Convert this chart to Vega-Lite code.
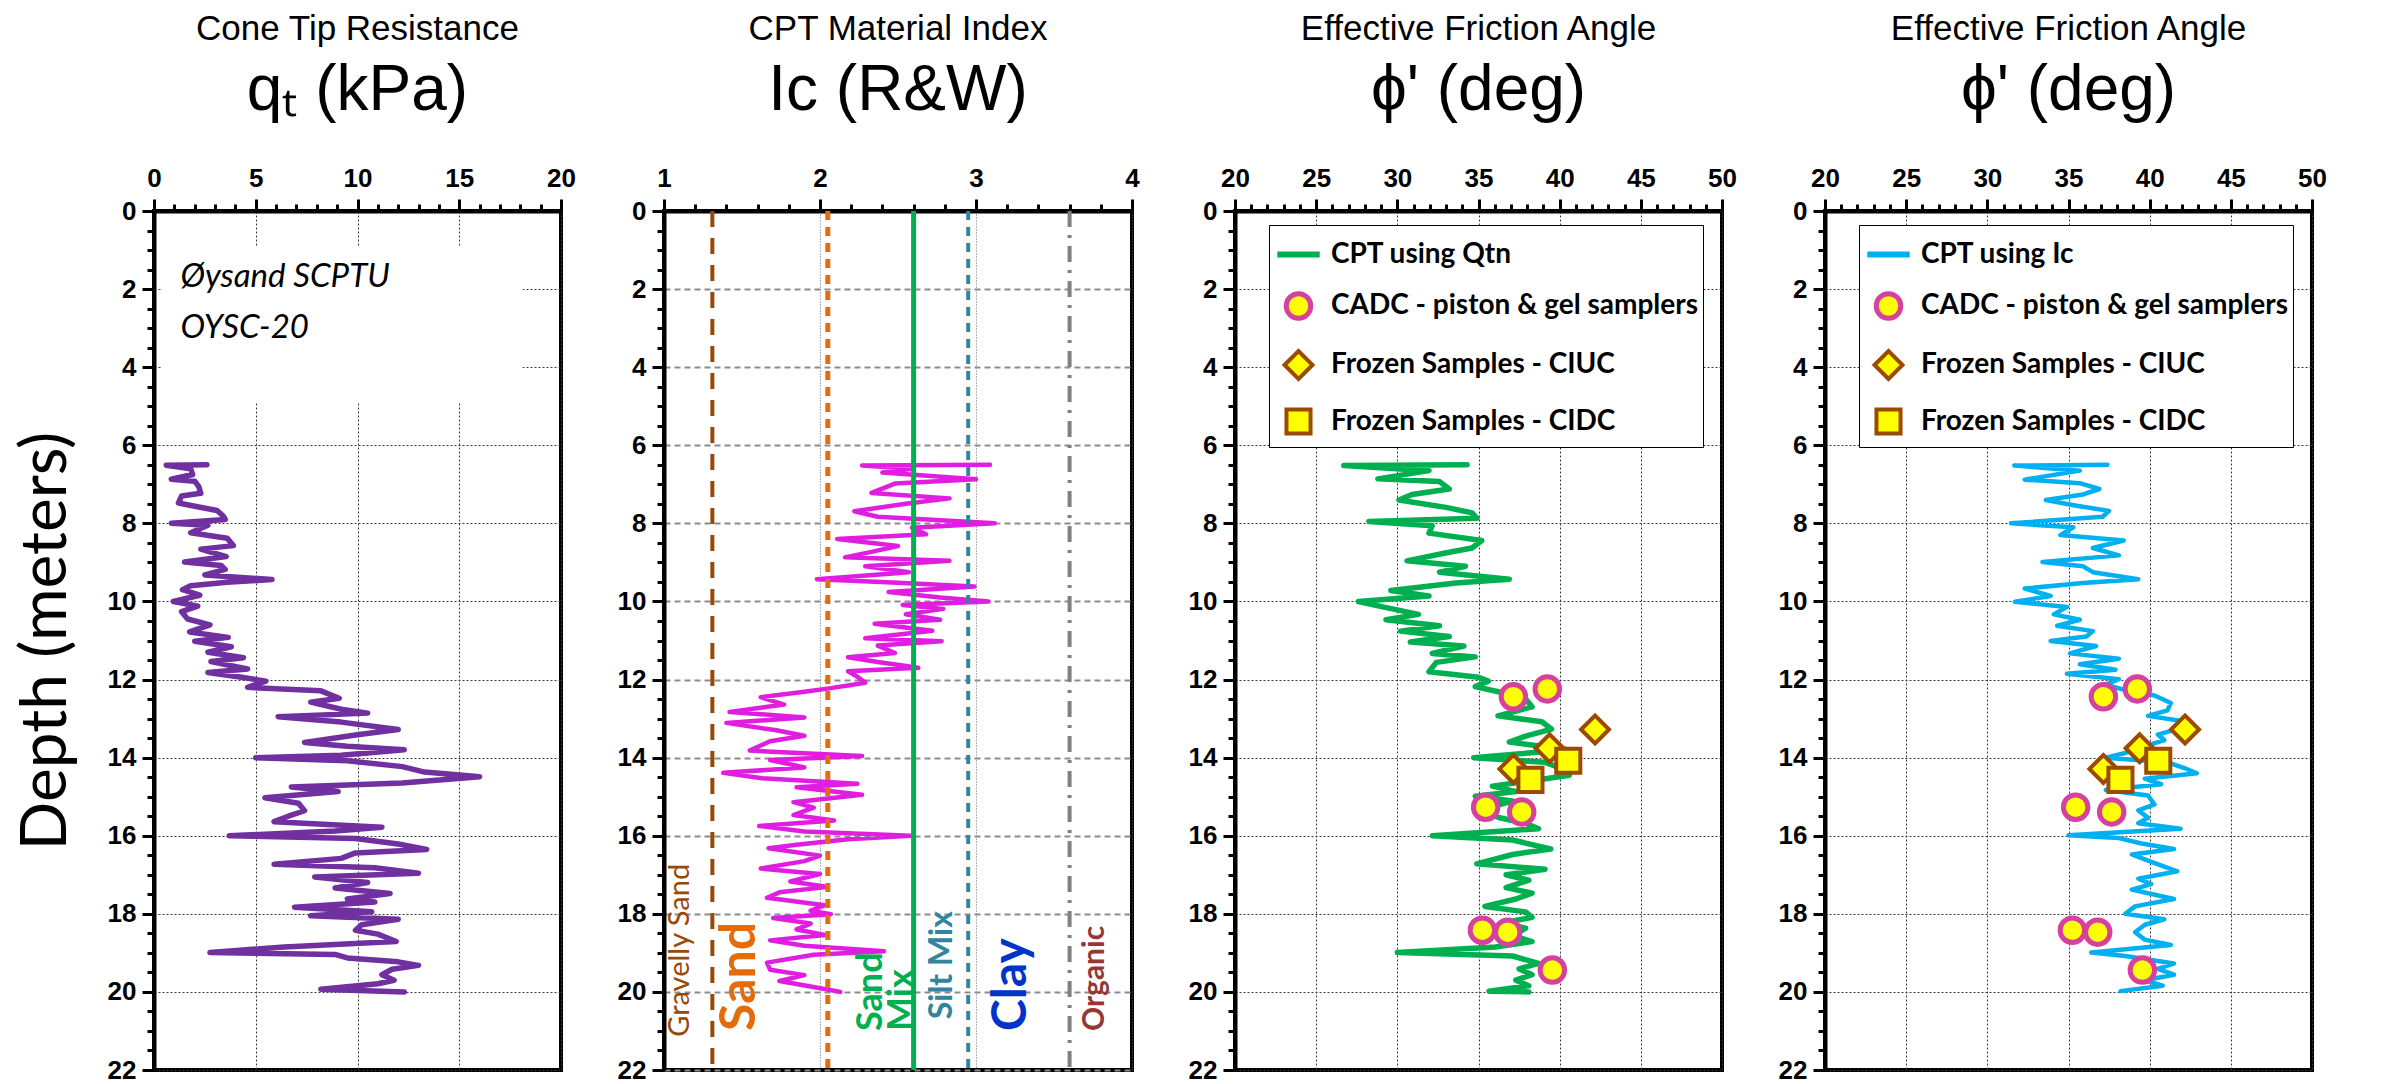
{
  "$schema": "https://vega.github.io/schema/vega-lite/v6.json",
  "background": "white",
  "padding": {"left": 12, "top": 10, "right": 10, "bottom": 4},
  "spacing": 103,
  "bounds": "flush",
  "datasets": {
    "qt": [
      {"depth":6.5,"qt":2.6},{"depth":6.51,"qt":0.6},{"depth":6.6,"qt":1.8},{"depth":6.75,"qt":1.9},{"depth":6.87,"qt":0.85},{"depth":6.92,"qt":2.0},{"depth":7.06,"qt":2.2},{"depth":7.23,"qt":2.3},{"depth":7.3,"qt":1.35},{"depth":7.48,"qt":1.2},{"depth":7.58,"qt":2.2},{"depth":7.67,"qt":3.1},{"depth":7.81,"qt":3.4},{"depth":7.9,"qt":3.5},{"depth":8.0,"qt":0.85},{"depth":8.05,"qt":2.65},{"depth":8.24,"qt":1.8},{"depth":8.38,"qt":3.6},{"depth":8.57,"qt":3.9},{"depth":8.66,"qt":2.3},{"depth":8.85,"qt":3.55},{"depth":8.99,"qt":1.5},{"depth":9.08,"qt":3.3},{"depth":9.18,"qt":3.5},{"depth":9.32,"qt":2.5},{"depth":9.44,"qt":5.8},{"depth":9.51,"qt":3.6},{"depth":9.6,"qt":1.8},{"depth":9.7,"qt":1.4},{"depth":9.84,"qt":2.25},{"depth":10.0,"qt":0.95},{"depth":10.12,"qt":2.15},{"depth":10.26,"qt":1.35},{"depth":10.45,"qt":1.65},{"depth":10.6,"qt":2.75},{"depth":10.78,"qt":1.75},{"depth":10.92,"qt":3.65},{"depth":11.02,"qt":2.0},{"depth":11.16,"qt":3.8},{"depth":11.3,"qt":2.65},{"depth":11.44,"qt":4.4},{"depth":11.54,"qt":2.8},{"depth":11.73,"qt":4.6},{"depth":11.82,"qt":2.65},{"depth":11.94,"qt":4.3},{"depth":12.04,"qt":5.5},{"depth":12.2,"qt":4.6},{"depth":12.29,"qt":8.2},{"depth":12.48,"qt":9.1},{"depth":12.58,"qt":7.7},{"depth":12.76,"qt":9.2},{"depth":12.86,"qt":10.5},{"depth":12.95,"qt":6.1},{"depth":13.09,"qt":9.2},{"depth":13.28,"qt":12.0},{"depth":13.42,"qt":9.9},{"depth":13.61,"qt":7.4},{"depth":13.71,"qt":9.5},{"depth":13.8,"qt":12.3},{"depth":13.94,"qt":9.2},{"depth":14.0,"qt":5.0},{"depth":14.08,"qt":9.5},{"depth":14.23,"qt":12.2},{"depth":14.37,"qt":13.3},{"depth":14.49,"qt":16.0},{"depth":14.65,"qt":12.2},{"depth":14.75,"qt":6.75},{"depth":14.87,"qt":9.05},{"depth":15.03,"qt":5.45},{"depth":15.17,"qt":7.1},{"depth":15.36,"qt":7.4},{"depth":15.5,"qt":6.6},{"depth":15.64,"qt":5.9},{"depth":15.78,"qt":11.2},{"depth":15.88,"qt":8.9},{"depth":16.0,"qt":3.7},{"depth":16.07,"qt":9.9},{"depth":16.21,"qt":12.0},{"depth":16.35,"qt":13.4},{"depth":16.44,"qt":9.9},{"depth":16.58,"qt":9.2},{"depth":16.73,"qt":5.9},{"depth":16.82,"qt":10.85},{"depth":16.96,"qt":13.0},{"depth":17.06,"qt":7.9},{"depth":17.2,"qt":10.5},{"depth":17.34,"qt":8.9},{"depth":17.48,"qt":11.6},{"depth":17.62,"qt":9.5},{"depth":17.7,"qt":10.85},{"depth":17.83,"qt":6.9},{"depth":17.95,"qt":10.7},{"depth":18.05,"qt":7.7},{"depth":18.14,"qt":12.0},{"depth":18.28,"qt":10.2},{"depth":18.42,"qt":9.9},{"depth":18.52,"qt":11.0},{"depth":18.71,"qt":11.9},{"depth":18.85,"qt":6.4},{"depth":18.99,"qt":2.75},{"depth":19.04,"qt":8.9},{"depth":19.13,"qt":9.5},{"depth":19.23,"qt":12.0},{"depth":19.32,"qt":13.0},{"depth":19.42,"qt":11.7},{"depth":19.56,"qt":11.2},{"depth":19.7,"qt":11.8},{"depth":19.79,"qt":11.0},{"depth":19.93,"qt":8.2},{"depth":20.0,"qt":12.3}
    ],
    "ic": [
      {"depth":6.5,"ic":3.09},{"depth":6.52,"ic":2.27},{"depth":6.6,"ic":2.59},{"depth":6.7,"ic":2.4},{"depth":6.87,"ic":3.0},{"depth":6.98,"ic":2.48},{"depth":7.22,"ic":2.33},{"depth":7.36,"ic":2.83},{"depth":7.5,"ic":2.55},{"depth":7.69,"ic":2.22},{"depth":7.83,"ic":2.37},{"depth":8.0,"ic":3.12},{"depth":8.11,"ic":2.59},{"depth":8.28,"ic":2.68},{"depth":8.4,"ic":2.11},{"depth":8.58,"ic":2.5},{"depth":8.73,"ic":2.33},{"depth":8.87,"ic":2.16},{"depth":8.96,"ic":2.83},{"depth":9.1,"ic":2.29},{"depth":9.25,"ic":2.57},{"depth":9.43,"ic":1.98},{"depth":9.52,"ic":2.5},{"depth":9.62,"ic":2.99},{"depth":9.76,"ic":2.44},{"depth":9.9,"ic":2.77},{"depth":10.0,"ic":3.08},{"depth":10.09,"ic":2.53},{"depth":10.19,"ic":2.79},{"depth":10.33,"ic":2.55},{"depth":10.47,"ic":2.77},{"depth":10.57,"ic":2.35},{"depth":10.75,"ic":2.72},{"depth":10.94,"ic":2.29},{"depth":11.02,"ic":2.78},{"depth":11.13,"ic":2.37},{"depth":11.32,"ic":2.48},{"depth":11.43,"ic":2.18},{"depth":11.55,"ic":2.37},{"depth":11.7,"ic":2.63},{"depth":11.79,"ic":2.18},{"depth":11.93,"ic":2.24},{"depth":12.08,"ic":2.29},{"depth":12.22,"ic":2.07},{"depth":12.31,"ic":1.9},{"depth":12.45,"ic":1.62},{"depth":12.64,"ic":1.77},{"depth":12.83,"ic":1.42},{"depth":12.97,"ic":1.9},{"depth":13.11,"ic":1.4},{"depth":13.3,"ic":1.72},{"depth":13.44,"ic":1.9},{"depth":13.58,"ic":1.68},{"depth":13.82,"ic":1.55},{"depth":13.96,"ic":2.27},{"depth":14.06,"ic":1.68},{"depth":14.25,"ic":1.9},{"depth":14.39,"ic":1.38},{"depth":14.53,"ic":1.63},{"depth":14.67,"ic":2.24},{"depth":14.76,"ic":1.85},{"depth":14.95,"ic":2.27},{"depth":15.14,"ic":1.83},{"depth":15.28,"ic":1.96},{"depth":15.47,"ic":1.83},{"depth":15.61,"ic":2.09},{"depth":15.75,"ic":1.61},{"depth":15.89,"ic":1.9},{"depth":16.0,"ic":2.58},{"depth":16.09,"ic":2.18},{"depth":16.23,"ic":1.85},{"depth":16.32,"ic":1.67},{"depth":16.51,"ic":2.0},{"depth":16.65,"ic":1.9},{"depth":16.84,"ic":1.62},{"depth":16.98,"ic":2.0},{"depth":17.17,"ic":1.81},{"depth":17.31,"ic":2.05},{"depth":17.45,"ic":1.74},{"depth":17.59,"ic":1.66},{"depth":17.78,"ic":2.03},{"depth":17.92,"ic":1.94},{"depth":18.01,"ic":2.07},{"depth":18.11,"ic":1.7},{"depth":18.25,"ic":1.94},{"depth":18.4,"ic":1.85},{"depth":18.54,"ic":2.03},{"depth":18.68,"ic":1.68},{"depth":18.82,"ic":1.9},{"depth":18.96,"ic":2.41},{"depth":19.05,"ic":1.96},{"depth":19.25,"ic":1.66},{"depth":19.43,"ic":1.68},{"depth":19.57,"ic":1.9},{"depth":19.72,"ic":1.74},{"depth":19.86,"ic":1.94},{"depth":20.0,"ic":2.13}
    ],
    "phiQtn": [
      {"depth":6.5,"phi":34.3},{"depth":6.52,"phi":26.7},{"depth":6.65,"phi":31.95},{"depth":6.86,"phi":28.8},{"depth":6.93,"phi":32.6},{"depth":7.12,"phi":33.2},{"depth":7.26,"phi":30.9},{"depth":7.4,"phi":30.1},{"depth":7.59,"phi":33.0},{"depth":7.73,"phi":34.6},{"depth":7.87,"phi":34.9},{"depth":7.95,"phi":28.25},{"depth":8.06,"phi":32.15},{"depth":8.25,"phi":31.95},{"depth":8.44,"phi":35.2},{"depth":8.63,"phi":34.6},{"depth":8.77,"phi":32.8},{"depth":8.96,"phi":30.6},{"depth":9.1,"phi":34.2},{"depth":9.25,"phi":32.6},{"depth":9.43,"phi":36.9},{"depth":9.53,"phi":33.6},{"depth":9.72,"phi":29.6},{"depth":9.86,"phi":31.95},{"depth":10.0,"phi":27.6},{"depth":10.14,"phi":29.1},{"depth":10.33,"phi":31.3},{"depth":10.47,"phi":29.3},{"depth":10.62,"phi":32.6},{"depth":10.76,"phi":30.2},{"depth":10.9,"phi":33.2},{"depth":11.04,"phi":30.8},{"depth":11.14,"phi":34.1},{"depth":11.33,"phi":32.15},{"depth":11.42,"phi":34.8},{"depth":11.56,"phi":32.4},{"depth":11.8,"phi":31.95},{"depth":11.94,"phi":35.0},{"depth":12.04,"phi":35.6},{"depth":12.18,"phi":34.8},{"depth":12.32,"phi":36.3},{"depth":12.5,"phi":37.9},{"depth":12.7,"phi":38.3},{"depth":12.93,"phi":36.2},{"depth":13.08,"phi":38.9},{"depth":13.27,"phi":39.5},{"depth":13.45,"phi":37.9},{"depth":13.6,"phi":36.9},{"depth":13.79,"phi":40.4},{"depth":13.88,"phi":38.1},{"depth":14.0,"phi":34.7},{"depth":14.12,"phi":39.1},{"depth":14.26,"phi":40.0},{"depth":14.45,"phi":40.6},{"depth":14.59,"phi":38.3},{"depth":14.73,"phi":35.85},{"depth":14.87,"phi":37.3},{"depth":14.99,"phi":34.8},{"depth":15.11,"phi":37.1},{"depth":15.35,"phi":35.0},{"depth":15.54,"phi":36.3},{"depth":15.68,"phi":37.9},{"depth":15.82,"phi":38.7},{"depth":16.0,"phi":32.15},{"depth":16.11,"phi":37.1},{"depth":16.34,"phi":39.45},{"depth":16.48,"phi":37.1},{"depth":16.72,"phi":34.9},{"depth":16.86,"phi":39.1},{"depth":17.0,"phi":36.7},{"depth":17.14,"phi":38.1},{"depth":17.33,"phi":36.7},{"depth":17.47,"phi":38.3},{"depth":17.62,"phi":37.3},{"depth":17.81,"phi":35.4},{"depth":17.95,"phi":37.9},{"depth":18.09,"phi":38.3},{"depth":18.23,"phi":36.5},{"depth":18.37,"phi":37.9},{"depth":18.56,"phi":37.1},{"depth":18.71,"phi":38.3},{"depth":18.85,"phi":36.05},{"depth":18.99,"phi":30.0},{"depth":19.08,"phi":37.1},{"depth":19.27,"phi":38.7},{"depth":19.41,"phi":37.5},{"depth":19.56,"phi":38.3},{"depth":19.7,"phi":37.3},{"depth":19.84,"phi":38.1},{"depth":19.98,"phi":35.65},{"depth":20.0,"phi":38.1}
    ],
    "phiIc": [
      {"depth":6.5,"phi":37.4},{"depth":6.52,"phi":31.66},{"depth":6.65,"phi":35.7},{"depth":6.88,"phi":32.3},{"depth":6.97,"phi":35.7},{"depth":7.12,"phi":36.9},{"depth":7.26,"phi":35.9},{"depth":7.4,"phi":33.6},{"depth":7.55,"phi":35.5},{"depth":7.68,"phi":37.5},{"depth":7.83,"phi":37.1},{"depth":8.0,"phi":31.46},{"depth":8.1,"phi":35.3},{"depth":8.3,"phi":34.5},{"depth":8.44,"phi":38.4},{"depth":8.63,"phi":36.5},{"depth":8.82,"phi":38.1},{"depth":8.99,"phi":33.4},{"depth":9.1,"phi":35.9},{"depth":9.25,"phi":36.5},{"depth":9.43,"phi":39.3},{"depth":9.53,"phi":35.9},{"depth":9.67,"phi":32.3},{"depth":9.86,"phi":33.9},{"depth":10.01,"phi":31.7},{"depth":10.14,"phi":34.9},{"depth":10.33,"phi":34.1},{"depth":10.47,"phi":35.7},{"depth":10.62,"phi":34.3},{"depth":10.76,"phi":36.5},{"depth":10.9,"phi":36.1},{"depth":11.01,"phi":33.9},{"depth":11.14,"phi":36.7},{"depth":11.33,"phi":35.1},{"depth":11.47,"phi":38.1},{"depth":11.61,"phi":35.7},{"depth":11.75,"phi":37.9},{"depth":11.85,"phi":34.9},{"depth":11.99,"phi":38.1},{"depth":12.13,"phi":37.3},{"depth":12.27,"phi":38.5},{"depth":12.41,"phi":40.3},{"depth":12.6,"phi":41.3},{"depth":12.79,"phi":41.1},{"depth":12.93,"phi":39.9},{"depth":13.08,"phi":42.3},{"depth":13.27,"phi":41.7},{"depth":13.41,"phi":40.5},{"depth":13.55,"phi":40.9},{"depth":13.74,"phi":39.5},{"depth":13.88,"phi":38.5},{"depth":14.0,"phi":37.3},{"depth":14.12,"phi":41.1},{"depth":14.26,"phi":42.1},{"depth":14.4,"phi":42.9},{"depth":14.54,"phi":39.7},{"depth":14.68,"phi":40.7},{"depth":14.83,"phi":37.3},{"depth":14.97,"phi":39.9},{"depth":15.2,"phi":40.3},{"depth":15.35,"phi":39.3},{"depth":15.54,"phi":39.9},{"depth":15.68,"phi":39.3},{"depth":15.82,"phi":41.9},{"depth":15.99,"phi":35.0},{"depth":16.06,"phi":38.1},{"depth":16.2,"phi":39.5},{"depth":16.34,"phi":41.5},{"depth":16.48,"phi":38.9},{"depth":16.67,"phi":40.1},{"depth":16.91,"phi":41.7},{"depth":17.1,"phi":39.3},{"depth":17.24,"phi":40.1},{"depth":17.38,"phi":38.9},{"depth":17.62,"phi":41.5},{"depth":17.81,"phi":39.1},{"depth":18.0,"phi":38.5},{"depth":18.14,"phi":40.9},{"depth":18.28,"phi":39.7},{"depth":18.47,"phi":39.1},{"depth":18.66,"phi":39.7},{"depth":18.8,"phi":41.3},{"depth":18.99,"phi":36.4},{"depth":19.08,"phi":38.5},{"depth":19.27,"phi":41.5},{"depth":19.41,"phi":40.5},{"depth":19.56,"phi":41.5},{"depth":19.7,"phi":39.7},{"depth":19.84,"phi":40.8},{"depth":19.98,"phi":38.2}
    ],
    "samples": [
      {"type":"CADC - piston & gel samplers","phi":39.24,"depth":12.24},
      {"type":"CADC - piston & gel samplers","phi":37.15,"depth":12.44},
      {"type":"CADC - piston & gel samplers","phi":35.44,"depth":15.27},
      {"type":"CADC - piston & gel samplers","phi":37.66,"depth":15.39},
      {"type":"CADC - piston & gel samplers","phi":35.24,"depth":18.42},
      {"type":"CADC - piston & gel samplers","phi":36.8,"depth":18.47},
      {"type":"CADC - piston & gel samplers","phi":39.55,"depth":19.44},
      {"type":"Frozen Samples - CIUC","phi":42.18,"depth":13.28},
      {"type":"Frozen Samples - CIUC","phi":39.38,"depth":13.76},
      {"type":"Frozen Samples - CIUC","phi":37.15,"depth":14.29},
      {"type":"Frozen Samples - CIDC","phi":40.53,"depth":14.08},
      {"type":"Frozen Samples - CIDC","phi":38.2,"depth":14.57}
    ]
  },
  "resolve": {
    "scale": {"stroke": "independent", "shape": "independent", "size": "independent", "strokeWidth": "independent"},
    "legend": {"stroke": "independent", "shape": "independent", "size": "independent", "strokeWidth": "independent"}
  },
  "config": {
    "font": "Liberation Sans",
    "view": {"stroke": "black", "strokeWidth": 4},
    "axis": {"labelFont": "Liberation Sans", "labelFontWeight": "bold", "labelFontSize": 26, "labelColor": "black", "domainColor": "black", "domainWidth": 4, "tickColor": "black", "tickWidth": 3, "gridColor": "#3a3a3a", "gridDash": [2, 2], "gridWidth": 1, "titleColor": "black", "labelOverlap": false},
    "title": {"font": "Liberation Sans", "fontSize": 35, "fontWeight": "normal", "color": "black", "subtitleFont": "Liberation Sans", "subtitleFontSize": 64, "subtitleColor": "black", "subtitlePadding": 12, "anchor": "middle", "offset": 42}
  },
  "hconcat": [
    {
      "width": 407, "height": 859,
      "title": {"text": "Cone Tip Resistance", "subtitle": "qₜ (kPa)"},
      "resolve": {"axis": {"x": "independent", "y": "independent"}},
      "layer": [
        {
          "data": {"values": [{"qt1": 0.4, "qt2": 18.1, "d1": 0.9, "d2": 4.9}]},
          "mark": {"type": "rect", "fill": "white"},
          "encoding": {
            "x": {"field": "qt1", "type": "quantitative", "scale": {"domain": [0, 20], "nice": false}, "axis": null},
            "x2": {"field": "qt2"},
            "y": {"field": "d1", "type": "quantitative", "scale": {"domain": [0, 22], "nice": false, "reverse": true}, "axis": null},
            "y2": {"field": "d2"}
          }
        },
        {
          "data": {"name": "qt"},
          "mark": {"type": "line", "color": "#7030a0", "strokeWidth": 5.5, "strokeJoin": "round", "strokeCap": "round"},
          "encoding": {
            "x": {"field": "qt", "type": "quantitative", "scale": {"domain": [0, 20], "nice": false},
                  "axis": {"orient": "top", "values": [0, 5, 10, 15, 20], "tickSize": 12, "labelPadding": 8, "labelFlush": false, "grid": true, "title": null}},
            "y": {"field": "depth", "type": "quantitative", "scale": {"domain": [0, 22], "nice": false, "reverse": true},
                  "axis": {"orient": "left", "values": [0, 2, 4, 6, 8, 10, 12, 14, 16, 18, 20, 22], "tickSize": 12, "labelPadding": 6, "labelFlush": false, "grid": true,
                           "title": "Depth (meters)", "titleFont": "Lato", "titleFontSize": 64, "titleFontWeight": "normal", "titlePadding": 29}},
            "order": {"field": "depth", "type": "quantitative"}
          }
        },
        {
          "data": {"values": [{"label": "Øysand SCPTU", "qt": 1.3, "depth": 1.7}, {"label": "OYSC-20", "qt": 1.3, "depth": 3.0}]},
          "mark": {"type": "text", "font": "Lato", "fontStyle": "italic", "fontSize": 33, "align": "left", "baseline": "middle", "color": "black"},
          "encoding": {
            "x": {"field": "qt", "type": "quantitative", "scale": {"domain": [0, 20], "nice": false}, "axis": null},
            "y": {"field": "depth", "type": "quantitative", "scale": {"domain": [0, 22], "nice": false, "reverse": true}, "axis": null},
            "text": {"field": "label"}
          }
        },
        {
          "data": {"name": "qt"},
          "mark": {"type": "point", "opacity": 0, "size": 1},
          "encoding": {
            "x": {"field": "qt", "type": "quantitative", "scale": {"domain": [0, 20], "nice": false},
                  "axis": {"orient": "top", "values": [1, 2, 3, 4, 6, 7, 8, 9, 11, 12, 13, 14, 16, 17, 18, 19], "labels": false, "domain": false, "grid": false, "tickSize": 7, "title": null}},
            "y": {"field": "depth", "type": "quantitative", "scale": {"domain": [0, 22], "nice": false, "reverse": true},
                  "axis": {"orient": "left", "values": [0.5, 1, 1.5, 2.5, 3, 3.5, 4.5, 5, 5.5, 6.5, 7, 7.5, 8.5, 9, 9.5, 10.5, 11, 11.5, 12.5, 13, 13.5, 14.5, 15, 15.5, 16.5, 17, 17.5, 18.5, 19, 19.5, 20.5, 21, 21.5], "labels": false, "domain": false, "grid": false, "tickSize": 7, "title": null}}
          }
        }
      ]
    },
    {
      "width": 468, "height": 859,
      "title": {"text": "CPT Material Index", "subtitle": "Iᴄ (R&W)"},
      "resolve": {"axis": {"x": "independent", "y": "independent"}},
      "layer": [
        {
          "data": {"name": "ic"},
          "mark": {"type": "line", "color": "#e01ee0", "strokeWidth": 4.5, "strokeJoin": "round", "strokeCap": "round"},
          "encoding": {
            "x": {"field": "ic", "type": "quantitative", "scale": {"domain": [1, 4], "nice": false, "zero": false},
                  "axis": {"orient": "top", "values": [1, 2, 3, 4], "tickSize": 12, "labelPadding": 8, "labelFlush": false, "grid": true, "gridDash": [1, 2], "gridColor": "#666666", "title": null}},
            "y": {"field": "depth", "type": "quantitative", "scale": {"domain": [0, 22], "nice": false, "reverse": true},
                  "axis": {"orient": "left", "values": [0, 2, 4, 6, 8, 10, 12, 14, 16, 18, 20, 22], "tickSize": 12, "labelPadding": 6, "labelFlush": false, "grid": true, "gridDash": [6, 4], "gridColor": "#8c8c8c", "gridWidth": 2, "title": null}},
            "order": {"field": "depth", "type": "quantitative"}
          }
        },
        {
          "data": {"name": "ic"},
          "mark": {"type": "point", "opacity": 0, "size": 1},
          "encoding": {
            "x": {"field": "ic", "type": "quantitative", "scale": {"domain": [1, 4], "nice": false, "zero": false},
                  "axis": {"orient": "top", "values": [1.2, 1.4, 1.6, 1.8, 2.2, 2.4, 2.6, 2.8, 3.2, 3.4, 3.6, 3.8], "labels": false, "domain": false, "grid": false, "tickSize": 7, "title": null}},
            "y": {"field": "depth", "type": "quantitative", "scale": {"domain": [0, 22], "nice": false, "reverse": true},
                  "axis": {"orient": "left", "values": [0.5, 1, 1.5, 2.5, 3, 3.5, 4.5, 5, 5.5, 6.5, 7, 7.5, 8.5, 9, 9.5, 10.5, 11, 11.5, 12.5, 13, 13.5, 14.5, 15, 15.5, 16.5, 17, 17.5, 18.5, 19, 19.5, 20.5, 21, 21.5], "labels": false, "domain": false, "grid": false, "tickSize": 7, "title": null}}
          }
        },
        {
          "data": {"values": [{"ic": 1.31}]},
          "mark": {"type": "rule", "color": "#984807", "strokeWidth": 4, "strokeDash": [16, 11]},
          "encoding": {"x": {"field": "ic", "type": "quantitative", "scale": {"domain": [1, 4], "nice": false, "zero": false}, "axis": null}}
        },
        {
          "data": {"values": [{"ic": 2.05}]},
          "mark": {"type": "rule", "color": "#e46c0a", "strokeWidth": 5, "strokeDash": [9, 7]},
          "encoding": {"x": {"field": "ic", "type": "quantitative", "scale": {"domain": [1, 4], "nice": false, "zero": false}, "axis": null}}
        },
        {
          "data": {"values": [{"ic": 2.6}]},
          "mark": {"type": "rule", "color": "#00b050", "strokeWidth": 5},
          "encoding": {"x": {"field": "ic", "type": "quantitative", "scale": {"domain": [1, 4], "nice": false, "zero": false}, "axis": null}}
        },
        {
          "data": {"values": [{"ic": 2.95}]},
          "mark": {"type": "rule", "color": "#31859c", "strokeWidth": 4, "strokeDash": [9, 7]},
          "encoding": {"x": {"field": "ic", "type": "quantitative", "scale": {"domain": [1, 4], "nice": false, "zero": false}, "axis": null}}
        },
        {
          "data": {"values": [{"ic": 3.6}]},
          "mark": {"type": "rule", "color": "#808080", "strokeWidth": 4, "strokeDash": [16, 8, 3, 8]},
          "encoding": {"x": {"field": "ic", "type": "quantitative", "scale": {"domain": [1, 4], "nice": false, "zero": false}, "axis": null}}
        },
        {
          "data": {"values": [{"zone": "Gravelly Sand", "ic": 1.1, "depth": 21.15}]},
          "mark": {"type": "text", "font": "Lato", "fontSize": 29, "angle": 270, "align": "left", "baseline": "middle", "color": "#984807"},
          "encoding": {
            "x": {"field": "ic", "type": "quantitative", "scale": {"domain": [1, 4], "nice": false, "zero": false}, "axis": null},
            "y": {"field": "depth", "type": "quantitative", "scale": {"domain": [0, 22], "nice": false, "reverse": true}, "axis": null},
            "text": {"field": "zone"}
          }
        },
        {
          "data": {"values": [{"zone": "Sand", "ic": 1.49, "depth": 21.0}]},
          "mark": {"type": "text", "font": "Lato", "fontSize": 50, "fontWeight": "bold", "angle": 270, "align": "left", "baseline": "middle", "color": "#e46c0a"},
          "encoding": {
            "x": {"field": "ic", "type": "quantitative", "scale": {"domain": [1, 4], "nice": false, "zero": false}, "axis": null},
            "y": {"field": "depth", "type": "quantitative", "scale": {"domain": [0, 22], "nice": false, "reverse": true}, "axis": null},
            "text": {"field": "zone"}
          }
        },
        {
          "data": {"values": [{"zone": "Sand Mix", "ic": 2.33, "depth": 21.0}]},
          "mark": {"type": "text", "font": "Lato", "fontSize": 36, "fontWeight": "bold", "lineBreak": " ", "lineHeight": 31, "angle": 270, "align": "left", "baseline": "middle", "color": "#00b050"},
          "encoding": {
            "x": {"field": "ic", "type": "quantitative", "scale": {"domain": [1, 4], "nice": false, "zero": false}, "axis": null},
            "y": {"field": "depth", "type": "quantitative", "scale": {"domain": [0, 22], "nice": false, "reverse": true}, "axis": null},
            "text": {"field": "zone"}
          }
        },
        {
          "data": {"values": [{"zone": "Silt Mix", "ic": 2.78, "depth": 20.7}]},
          "mark": {"type": "text", "font": "Lato", "fontSize": 32, "fontWeight": "bold", "angle": 270, "align": "left", "baseline": "middle", "color": "#31859c"},
          "encoding": {
            "x": {"field": "ic", "type": "quantitative", "scale": {"domain": [1, 4], "nice": false, "zero": false}, "axis": null},
            "y": {"field": "depth", "type": "quantitative", "scale": {"domain": [0, 22], "nice": false, "reverse": true}, "axis": null},
            "text": {"field": "zone"}
          }
        },
        {
          "data": {"values": [{"zone": "Clay", "ic": 3.23, "depth": 21.0}]},
          "mark": {"type": "text", "font": "Lato", "fontSize": 48, "fontWeight": "bold", "angle": 270, "align": "left", "baseline": "middle", "color": "#0033cc"},
          "encoding": {
            "x": {"field": "ic", "type": "quantitative", "scale": {"domain": [1, 4], "nice": false, "zero": false}, "axis": null},
            "y": {"field": "depth", "type": "quantitative", "scale": {"domain": [0, 22], "nice": false, "reverse": true}, "axis": null},
            "text": {"field": "zone"}
          }
        },
        {
          "data": {"values": [{"zone": "Organic", "ic": 3.76, "depth": 21.0}]},
          "mark": {"type": "text", "font": "Lato", "fontSize": 30, "fontWeight": "bold", "angle": 270, "align": "left", "baseline": "middle", "color": "#953735"},
          "encoding": {
            "x": {"field": "ic", "type": "quantitative", "scale": {"domain": [1, 4], "nice": false, "zero": false}, "axis": null},
            "y": {"field": "depth", "type": "quantitative", "scale": {"domain": [0, 22], "nice": false, "reverse": true}, "axis": null},
            "text": {"field": "zone"}
          }
        }
      ]
    },
    {
      "width": 487, "height": 859,
      "title": {"text": "Effective Friction Angle", "subtitle": "ϕ' (deg)"},
      "resolve": {"axis": {"x": "independent", "y": "independent"}},
      "layer": [
        {
          "data": {"name": "phiQtn"},
          "mark": {"type": "line", "color": "#00b050", "strokeWidth": 5.5, "strokeJoin": "round", "strokeCap": "round"},
          "encoding": {
            "x": {"field": "phi", "type": "quantitative", "scale": {"domain": [20, 50], "nice": false, "zero": false},
                  "axis": {"orient": "top", "values": [20, 25, 30, 35, 40, 45, 50], "tickSize": 12, "labelPadding": 8, "labelFlush": false, "grid": true, "title": null}},
            "y": {"field": "depth", "type": "quantitative", "scale": {"domain": [0, 22], "nice": false, "reverse": true},
                  "axis": {"orient": "left", "values": [0, 2, 4, 6, 8, 10, 12, 14, 16, 18, 20, 22], "tickSize": 12, "labelPadding": 6, "labelFlush": false, "grid": true, "title": null}},
            "order": {"field": "depth", "type": "quantitative"}
          }
        },
        {
          "data": {"name": "samples"},
          "mark": {"type": "point", "filled": true, "fill": "#ffff00", "opacity": 1},
          "encoding": {
            "x": {"field": "phi", "type": "quantitative", "scale": {"domain": [20, 50], "nice": false, "zero": false}, "axis": null},
            "y": {"field": "depth", "type": "quantitative", "scale": {"domain": [0, 22], "nice": false, "reverse": true}, "axis": null},
            "stroke": {"field": "type", "type": "nominal",
                       "scale": {"domain": ["CPT using Qtn", "CADC - piston & gel samplers", "Frozen Samples - CIUC", "Frozen Samples - CIDC"], "range": ["#00b050", "#d6409f", "#9c4a00", "#9c4a00"]},
                       "legend": {"title": null, "orient": "none", "legendX": 34, "legendY": 14, "direction": "vertical", "fillColor": "white", "strokeColor": "black", "padding": 5, "labelFont": "Lato", "labelFontWeight": "bold", "labelFontSize": 28, "labelColor": "black", "labelLimit": 600, "rowPadding": 14, "labelOffset": 8, "symbolFillColor": "#ffff00",
                                  "encode": {"legend": {"update": {"strokeWidth": {"value": 3}}}, "symbols": {"update": {"fill": {"value": "#ffff00"}}}}}},
            "shape": {"field": "type", "type": "nominal",
                      "scale": {"domain": ["CPT using Qtn", "CADC - piston & gel samplers", "Frozen Samples - CIUC", "Frozen Samples - CIDC"], "range": ["stroke", "circle", "diamond", "square"]},
                      "legend": {"title": null, "orient": "none", "legendX": 34, "legendY": 14}},
            "size": {"field": "type", "type": "nominal",
                     "scale": {"type": "ordinal", "domain": ["CPT using Qtn", "CADC - piston & gel samplers", "Frozen Samples - CIUC", "Frozen Samples - CIDC"], "range": [1800, 600, 780, 580]},
                     "legend": {"title": null, "orient": "none", "legendX": 34, "legendY": 14}},
            "strokeWidth": {"field": "type", "type": "nominal",
                            "scale": {"type": "ordinal", "domain": ["CPT using Qtn", "CADC - piston & gel samplers", "Frozen Samples - CIUC", "Frozen Samples - CIDC"], "range": [6, 5, 4, 4]},
                            "legend": {"title": null, "orient": "none", "legendX": 34, "legendY": 14}}
          }
        },
        {
          "data": {"name": "phiQtn"},
          "mark": {"type": "point", "opacity": 0, "size": 1},
          "encoding": {
            "x": {"field": "phi", "type": "quantitative", "scale": {"domain": [20, 50], "nice": false, "zero": false},
                  "axis": {"orient": "top", "values": [21, 22, 23, 24, 26, 27, 28, 29, 31, 32, 33, 34, 36, 37, 38, 39, 41, 42, 43, 44, 46, 47, 48, 49], "labels": false, "domain": false, "grid": false, "tickSize": 7, "title": null}},
            "y": {"field": "depth", "type": "quantitative", "scale": {"domain": [0, 22], "nice": false, "reverse": true},
                  "axis": {"orient": "left", "values": [0.5, 1, 1.5, 2.5, 3, 3.5, 4.5, 5, 5.5, 6.5, 7, 7.5, 8.5, 9, 9.5, 10.5, 11, 11.5, 12.5, 13, 13.5, 14.5, 15, 15.5, 16.5, 17, 17.5, 18.5, 19, 19.5, 20.5, 21, 21.5], "labels": false, "domain": false, "grid": false, "tickSize": 7, "title": null}}
          }
        }
      ]
    },
    {
      "width": 487, "height": 859,
      "title": {"text": "Effective Friction Angle", "subtitle": "ϕ' (deg)"},
      "resolve": {"axis": {"x": "independent", "y": "independent"}},
      "layer": [
        {
          "data": {"name": "phiIc"},
          "mark": {"type": "line", "color": "#00b0f0", "strokeWidth": 4.5, "strokeJoin": "round", "strokeCap": "round"},
          "encoding": {
            "x": {"field": "phi", "type": "quantitative", "scale": {"domain": [20, 50], "nice": false, "zero": false},
                  "axis": {"orient": "top", "values": [20, 25, 30, 35, 40, 45, 50], "tickSize": 12, "labelPadding": 8, "labelFlush": false, "grid": true, "title": null}},
            "y": {"field": "depth", "type": "quantitative", "scale": {"domain": [0, 22], "nice": false, "reverse": true},
                  "axis": {"orient": "left", "values": [0, 2, 4, 6, 8, 10, 12, 14, 16, 18, 20, 22], "tickSize": 12, "labelPadding": 6, "labelFlush": false, "grid": true, "title": null}},
            "order": {"field": "depth", "type": "quantitative"}
          }
        },
        {
          "data": {"name": "samples"},
          "mark": {"type": "point", "filled": true, "fill": "#ffff00", "opacity": 1},
          "encoding": {
            "x": {"field": "phi", "type": "quantitative", "scale": {"domain": [20, 50], "nice": false, "zero": false}, "axis": null},
            "y": {"field": "depth", "type": "quantitative", "scale": {"domain": [0, 22], "nice": false, "reverse": true}, "axis": null},
            "stroke": {"field": "type", "type": "nominal",
                       "scale": {"domain": ["CPT using Ic", "CADC - piston & gel samplers", "Frozen Samples - CIUC", "Frozen Samples - CIDC"], "range": ["#00b0f0", "#d6409f", "#9c4a00", "#9c4a00"]},
                       "legend": {"title": null, "orient": "none", "legendX": 34, "legendY": 14, "direction": "vertical", "fillColor": "white", "strokeColor": "black", "padding": 5, "labelFont": "Lato", "labelFontWeight": "bold", "labelFontSize": 28, "labelColor": "black", "labelLimit": 600, "rowPadding": 14, "labelOffset": 8, "symbolFillColor": "#ffff00",
                                  "encode": {"legend": {"update": {"strokeWidth": {"value": 3}}}, "symbols": {"update": {"fill": {"value": "#ffff00"}}}}}},
            "shape": {"field": "type", "type": "nominal",
                      "scale": {"domain": ["CPT using Ic", "CADC - piston & gel samplers", "Frozen Samples - CIUC", "Frozen Samples - CIDC"], "range": ["stroke", "circle", "diamond", "square"]},
                      "legend": {"title": null, "orient": "none", "legendX": 34, "legendY": 14}},
            "size": {"field": "type", "type": "nominal",
                     "scale": {"type": "ordinal", "domain": ["CPT using Ic", "CADC - piston & gel samplers", "Frozen Samples - CIUC", "Frozen Samples - CIDC"], "range": [1800, 600, 780, 580]},
                     "legend": {"title": null, "orient": "none", "legendX": 34, "legendY": 14}},
            "strokeWidth": {"field": "type", "type": "nominal",
                            "scale": {"type": "ordinal", "domain": ["CPT using Ic", "CADC - piston & gel samplers", "Frozen Samples - CIUC", "Frozen Samples - CIDC"], "range": [6, 5, 4, 4]},
                            "legend": {"title": null, "orient": "none", "legendX": 34, "legendY": 14}}
          }
        },
        {
          "data": {"name": "phiIc"},
          "mark": {"type": "point", "opacity": 0, "size": 1},
          "encoding": {
            "x": {"field": "phi", "type": "quantitative", "scale": {"domain": [20, 50], "nice": false, "zero": false},
                  "axis": {"orient": "top", "values": [21, 22, 23, 24, 26, 27, 28, 29, 31, 32, 33, 34, 36, 37, 38, 39, 41, 42, 43, 44, 46, 47, 48, 49], "labels": false, "domain": false, "grid": false, "tickSize": 7, "title": null}},
            "y": {"field": "depth", "type": "quantitative", "scale": {"domain": [0, 22], "nice": false, "reverse": true},
                  "axis": {"orient": "left", "values": [0.5, 1, 1.5, 2.5, 3, 3.5, 4.5, 5, 5.5, 6.5, 7, 7.5, 8.5, 9, 9.5, 10.5, 11, 11.5, 12.5, 13, 13.5, 14.5, 15, 15.5, 16.5, 17, 17.5, 18.5, 19, 19.5, 20.5, 21, 21.5], "labels": false, "domain": false, "grid": false, "tickSize": 7, "title": null}}
          }
        }
      ]
    }
  ]
}
